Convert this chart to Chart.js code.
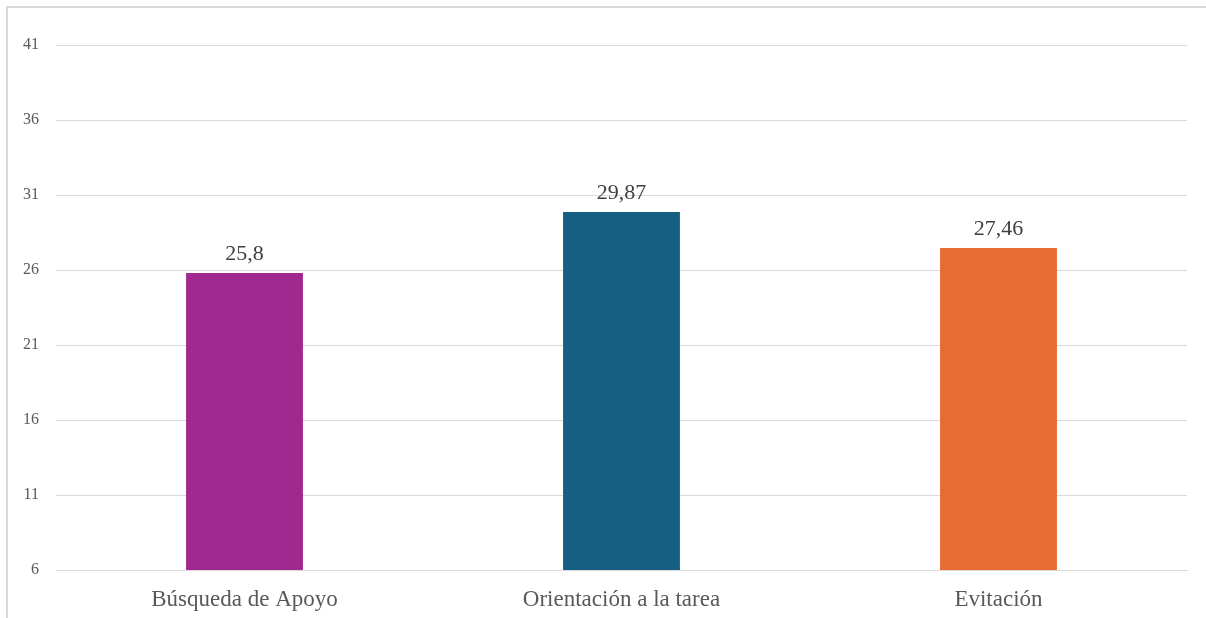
<!DOCTYPE html>
<html>
<head>
<meta charset="utf-8">
<script src="https://cdn.jsdelivr.net/npm/chart.js@4"></script>
<style>
  html, body { margin: 0; padding: 0; background: #fff; overflow: hidden; }
  #wrap { position: relative; width: 1206px; height: 618px; }
  #frame {
    position: absolute; left: 6px; top: 6px; width: 1300px; height: 700px;
    border-left: 2px solid #d9d9d9; border-top: 2px solid #d9d9d9;
    pointer-events: none;
  }
</style>
</head>
<body>
<div id="wrap">
  <canvas id="chart" width="1206" height="618"></canvas>
  <div id="frame"></div>
</div>
<script>
const categories = ["Búsqueda de Apoyo", "Orientación a la tarea", "Evitación"];
const values = [25.8, 29.87, 27.46];
const barColors = ["#a0298f", "#156082", "#e76c33"];
const yMin = 6, yMax = 41, yStep = 5;

// value labels above each bar, comma as decimal separator
const barLabels = {
  id: "barLabels",
  afterDatasetsDraw(chart) {
    const ctx = chart.ctx;
    const meta = chart.getDatasetMeta(0);
    ctx.save();
    ctx.font = "22px 'Liberation Serif', serif";
    ctx.fillStyle = "#404040";
    ctx.textAlign = "center";
    ctx.textBaseline = "bottom";
    meta.data.forEach((bar, i) => {
      ctx.fillText(String(values[i]).replace(".", ","), bar.x, bar.y - 8);
    });
    ctx.restore();
  }
};

new Chart(document.getElementById("chart"), {
  type: "bar",
  data: {
    labels: categories,
    datasets: [{
      data: values,
      backgroundColor: barColors,
      barPercentage: 0.31,
      categoryPercentage: 1
    }]
  },
  options: {
    responsive: false,
    animation: false,
    layout: { padding: { left: 0, top: 45, right: 19, bottom: 0 } },
    plugins: { legend: { display: false }, tooltip: { enabled: false } },
    scales: {
      x: {
        afterFit(axis) { axis.height = 48; },
        grid: { display: false, drawTicks: false },
        border: { color: "#d9d9d9", width: 1 },
        ticks: {
          padding: 16,
          color: "#595959",
          font: { family: "'Liberation Serif', serif", size: 23 }
        }
      },
      y: {
        min: yMin,
        max: yMax,
        afterFit(axis) { axis.width = 56; },
        afterBuildTicks(axis) {
          axis.ticks = [];
          for (let v = yMin; v <= yMax; v += yStep) axis.ticks.push({ value: v });
        },
        grid: { color: "#d9d9d9", drawTicks: false },
        border: { display: false },
        ticks: {
          padding: 17,
          color: "#595959",
          font: { family: "'Liberation Serif', serif", size: 16 }
        }
      }
    }
  },
  plugins: [barLabels]
});
</script>
</body>
</html>
